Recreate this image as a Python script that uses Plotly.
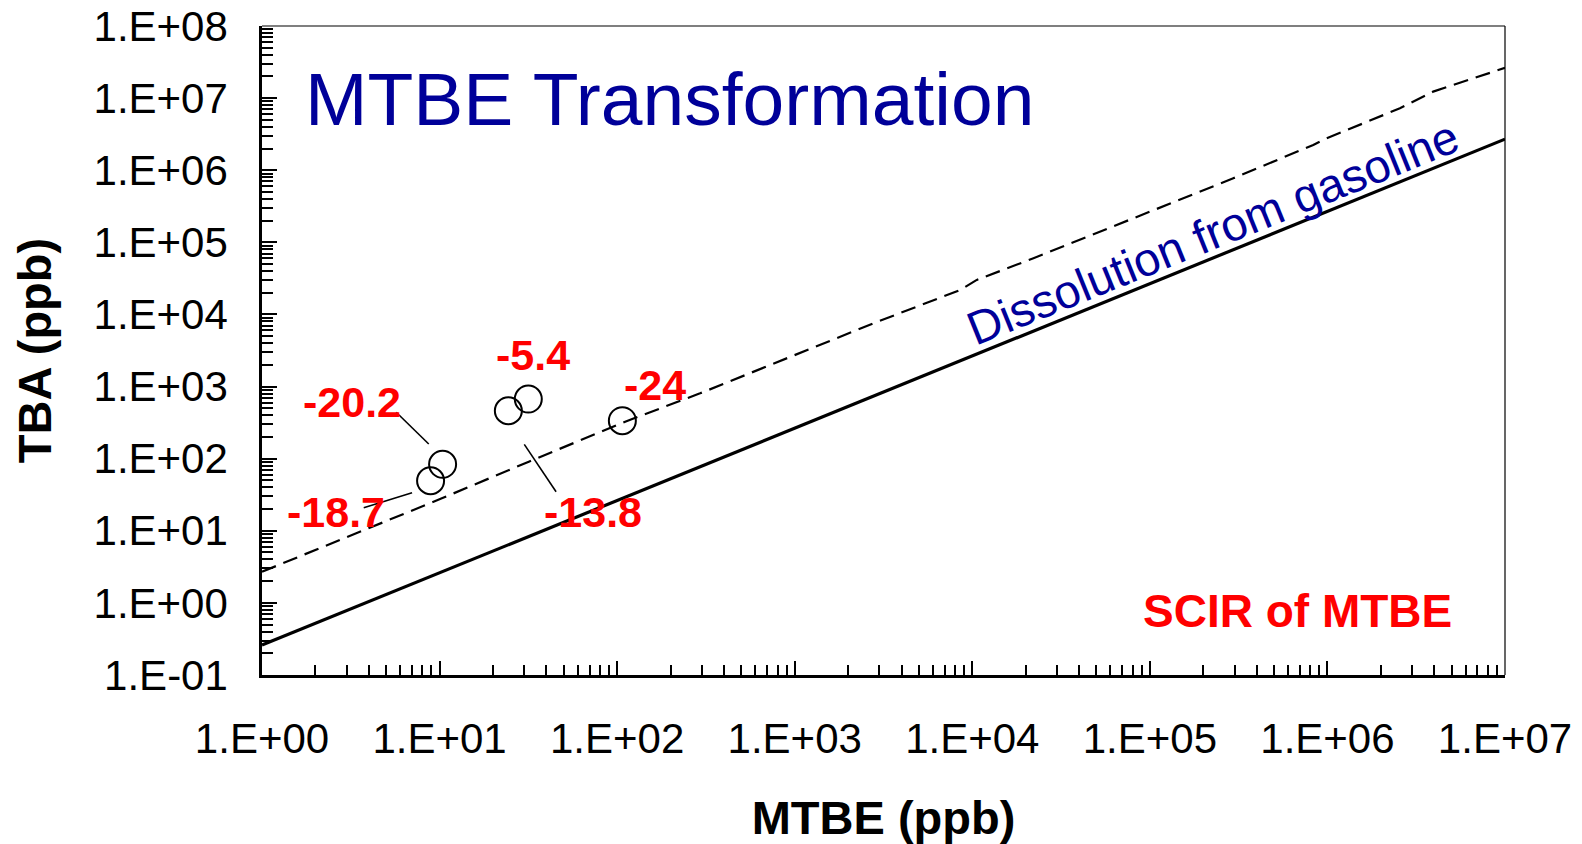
import numpy as np
import plotly.graph_objects as go

FONT = "Liberation Sans, Arial, sans-serif"

# ---- data ----
mtbe_pts = [10.4, 8.9, 24.4, 31.6, 107]
tba_pts = [83.5, 49.4, 462, 671, 336]
pt_labels = ["-20.2", "-18.7", "-13.8", "-5.4", "-24"]
label_x = [3.21, 2.61, 72.8, 33.6, 163]
label_y = [617, 18.4, 18.4, 2740, 1050]

# leader lines (label -> point)
leader_x = [[5.70, 8.69], [3.74, 7.00], [30.0, 45.3]]
leader_y = [[440, 160], [20.9, 33.7], [158, 34.8]]

# SCIR of MTBE line (TBA = 0.26 * MTBE)
scir_x = [1, 1e7]
scir_y = [0.26, 2.7e6]

# Dissolution from gasoline (dashed)
diss_x = [1, 3.66, 10.3, 31.8, 111, 293, 863, 2770, 8530, 10600, 22100, 52400,
          124000, 295000, 832000, 991000, 2560000, 3940000, 1e7]
diss_y = [2.7, 10.0, 28.2, 90.8, 326, 805, 2330, 7530, 21800, 30100, 60100, 140000,
          330000, 773000, 2240000, 2770000, 7230000, 12300000, 26300000]

x_tickvals = [1e0, 1e1, 1e2, 1e3, 1e4, 1e5, 1e6, 1e7]
x_ticktext = ["1.E+00", "1.E+01", "1.E+02", "1.E+03", "1.E+04", "1.E+05", "1.E+06", "1.E+07"]
y_tickvals = [1e-1, 1e0, 1e1, 1e2, 1e3, 1e4, 1e5, 1e6, 1e7, 1e8]
y_ticktext = ["1.E-01", "1.E+00", "1.E+01", "1.E+02", "1.E+03", "1.E+04", "1.E+05",
              "1.E+06", "1.E+07", "1.E+08"]

fig = go.Figure()

fig.add_trace(go.Scatter(x=scir_x, y=scir_y, mode="lines",
                         line=dict(color="black", width=3.2), showlegend=False,
                         hoverinfo="skip"))
fig.add_trace(go.Scatter(x=diss_x, y=diss_y, mode="lines",
                         line=dict(color="black", width=2.2, dash="15px,8px"),
                         showlegend=False, hoverinfo="skip"))
for lx, ly in zip(leader_x, leader_y):
    fig.add_trace(go.Scatter(x=lx, y=ly, mode="lines",
                             line=dict(color="black", width=1.6),
                             showlegend=False, hoverinfo="skip"))
fig.add_trace(go.Scatter(x=mtbe_pts, y=tba_pts, mode="markers",
                         marker=dict(symbol="circle-open", size=27,
                                     color="black", line=dict(width=2)),
                         showlegend=False))

annotations = []
for t, lx, ly in zip(pt_labels, label_x, label_y):
    annotations.append(dict(x=np.log10(lx), y=np.log10(ly), xref="x", yref="y",
                            text="<b>%s</b>" % t, showarrow=False,
                            font=dict(family=FONT, size=43, color="#FF0000")))
annotations.append(dict(x=np.log10(196), y=np.log10(9.6e6), xref="x", yref="y",
                        text="MTBE Transformation", showarrow=False,
                        font=dict(family=FONT, size=75, color="#000099")))
annotations.append(dict(x=np.log10(224000), y=np.log10(139000), xref="x", yref="y",
                        text="Dissolution from gasoline", showarrow=False,
                        textangle=-22,
                        font=dict(family=FONT, size=47, color="#000099")))
annotations.append(dict(x=np.log10(675000), y=np.log10(0.77), xref="x", yref="y",
                        text="<b>SCIR of MTBE</b>", showarrow=False,
                        font=dict(family=FONT, size=46, color="#FF0000")))

# page body has an 8px margin; compensate so the plot lands where the reference is
fig.update_layout(
    width=1574, height=836,
    margin=dict(l=254, r=77, t=18, b=169, autoexpand=False),
    paper_bgcolor="white", plot_bgcolor="white",
    font=dict(family=FONT, color="black"),
    annotations=annotations,
    shapes=[
        dict(type="line", xref="paper", yref="paper", x0=0, x1=1, y0=1, y1=1,
             line=dict(color="black", width=1.2)),
        dict(type="line", xref="paper", yref="paper", x0=1, x1=1, y0=0, y1=1,
             line=dict(color="black", width=1.2)),
    ],
)

fig.update_xaxes(
    type="log", range=[0, 7], showgrid=False, zeroline=False, automargin=False,
    showline=True, linecolor="black", linewidth=2.5,
    tickmode="array", tickvals=x_tickvals, ticktext=x_ticktext,
    ticks="inside", ticklen=14, tickwidth=1.5, tickcolor="black",
    tickfont=dict(family=FONT, size=42, color="black"),
    ticklabelstandoff=25, ticklabeloverflow="allow",
    minor=dict(ticks="inside", ticklen=10, tickwidth=1.5, tickcolor="black",
               dtick="D1", showgrid=False),
    title=dict(text="<b>MTBE (ppb)</b>", font=dict(family=FONT, size=47, color="black"),
               standoff=43),
)
fig.update_yaxes(
    type="log", range=[-1, 8], showgrid=False, zeroline=False, automargin=False,
    showline=True, linecolor="black", linewidth=2.5,
    tickmode="array", tickvals=y_tickvals, ticktext=y_ticktext,
    ticks="inside", ticklen=15, tickwidth=1.5, tickcolor="black",
    tickfont=dict(family=FONT, size=42, color="black"),
    ticklabelstandoff=23, ticklabeloverflow="allow",
    minor=dict(ticks="inside", ticklen=11, tickwidth=1.5, tickcolor="black",
               dtick="D1", showgrid=False),
    title=dict(text="<b>TBA (ppb)</b>", font=dict(family=FONT, size=47, color="black"),
               standoff=30),
)

fig.write_html("out.html")
